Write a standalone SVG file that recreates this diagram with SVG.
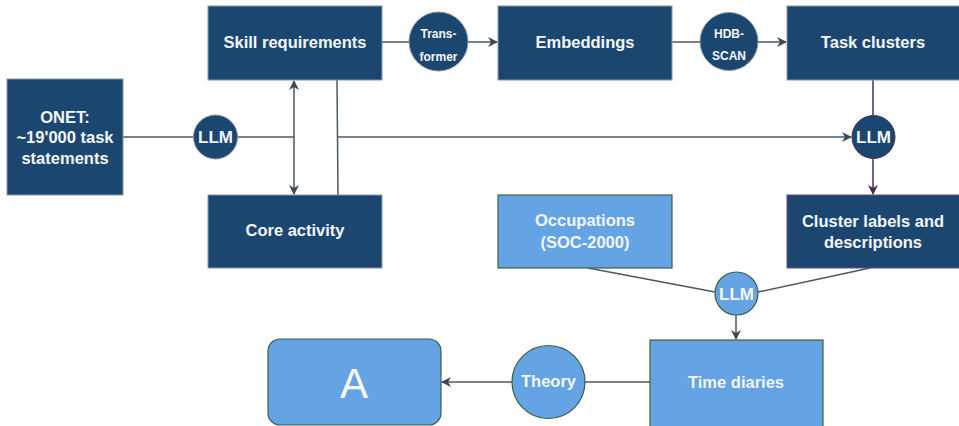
<svg xmlns="http://www.w3.org/2000/svg" width="959" height="426" viewBox="0 0 959 426">
<defs>
<marker id="ah" viewBox="0 0 10 10" refX="9" refY="5" markerWidth="10" markerHeight="10" markerUnits="userSpaceOnUse" orient="auto-start-reverse">
<path d="M0,0 L10,5 L0,10 L3,5 Z" fill="#3b4a5a"/>
</marker>
<marker id="ahp" viewBox="0 0 10 10" refX="9" refY="5" markerWidth="10" markerHeight="10" markerUnits="userSpaceOnUse" orient="auto">
<path d="M0,0 L10,5 L0,10 L3,5 Z" fill="#432d57"/>
</marker>
<style>
.dk{fill:#1b4670;stroke:#8a96a3;stroke-width:1}
.lt{fill:#64a3e4;stroke:#3f5f46;stroke-width:1.2}
.t{font-family:"Liberation Sans",Arial,sans-serif;fill:#f4f7fb;text-anchor:middle;font-size:16.5px;font-weight:bold}
.s{font-family:"Liberation Sans",Arial,sans-serif;fill:#f4f7fb;text-anchor:middle;font-size:12px;font-weight:bold}
.big{font-family:"Liberation Sans",Arial,sans-serif;fill:#ffffff;text-anchor:middle;font-size:42px}
.c{fill:none;stroke:#4a5866;stroke-width:1.5}
.p{fill:none;stroke:#432d57;stroke-width:1.5}
</style>
</defs>
<rect width="959" height="426" fill="#ffffff"/>
<g id="connectors">
<line class="c" x1="123" y1="137" x2="193" y2="137"/>
<line class="c" x1="238" y1="137" x2="294" y2="137"/>
<line class="c" x1="294" y1="81" x2="294" y2="194" marker-start="url(#ah)" marker-end="url(#ah)"/>
<line class="c" x1="337" y1="80" x2="338" y2="195"/>
<line class="c" x1="338" y1="137" x2="851" y2="137" marker-end="url(#ah)"/>
<line class="c" x1="382" y1="42" x2="409" y2="42"/>
<line class="c" x1="468" y1="42" x2="497" y2="42" marker-end="url(#ah)"/>
<line class="c" x1="672" y1="42" x2="700" y2="42"/>
<line class="c" x1="758" y1="42" x2="786" y2="42" marker-end="url(#ah)"/>
<line class="p" x1="873" y1="80" x2="873" y2="115"/>
<line class="p" x1="873" y1="159" x2="873" y2="194" marker-end="url(#ahp)"/>
<line class="c" x1="588" y1="268" x2="715" y2="292"/>
<line class="c" x1="870" y1="268" x2="758" y2="292"/>
<line class="c" x1="736" y1="315" x2="736" y2="339" marker-end="url(#ah)"/>
<line class="c" x1="650" y1="382" x2="585" y2="382"/>
<line class="c" x1="512" y1="382" x2="442" y2="382" marker-end="url(#ah)"/>
</g>
<g id="onet"><rect class="dk" x="7" y="79" width="116" height="116"/>
<text class="t" x="65" y="123">ONET:</text>
<text class="t" x="65" y="143">~19'000 task</text>
<text class="t" x="65" y="164">statements</text></g>
<g id="llm1"><circle class="dk" cx="215.5" cy="137" r="22"/><text class="t" x="215.5" y="143" style="font-size:17px">LLM</text></g>
<g id="skill"><rect class="dk" x="208" y="6" width="174" height="74"/><text class="t" x="295" y="48">Skill requirements</text></g>
<g id="core"><rect class="dk" x="208" y="195" width="174" height="73"/><text class="t" x="295" y="236">Core activity</text></g>
<g id="transformer"><circle class="dk" cx="438.5" cy="41.5" r="29.5"/><text class="s" x="438.5" y="38">Trans-</text><text class="s" x="438.5" y="61">former</text></g>
<g id="embeddings"><rect class="dk" x="498" y="6" width="174" height="74"/><text class="t" x="585" y="48">Embeddings</text></g>
<g id="hdbscan"><circle class="dk" cx="729" cy="41.5" r="29"/><text class="s" x="729" y="38">HDB-</text><text class="s" x="729" y="60">SCAN</text></g>
<g id="clusters"><rect class="dk" x="787" y="6" width="175" height="74"/><text class="t" x="873" y="48">Task clusters</text></g>
<g id="llm2"><circle class="dk" cx="873.5" cy="137" r="21.5" style="stroke:#432d57"/><text class="t" x="873.5" y="143" style="font-size:17px">LLM</text></g>
<g id="labels"><rect class="dk" x="787" y="195" width="175" height="73" style="stroke:#6a4a7a"/>
<text class="t" x="873" y="227">Cluster labels and</text><text class="t" x="873" y="248">descriptions</text></g>
<g id="occupations"><rect class="lt" x="498" y="195" width="174" height="73"/>
<text class="t" x="585" y="226">Occupations</text><text class="t" x="585" y="248">(SOC-2000)</text></g>
<g id="llm3"><circle class="lt" cx="736.5" cy="293.5" r="21.5"/><text class="t" x="736.5" y="300" style="font-size:17px">LLM</text></g>
<g id="timediaries"><rect class="lt" x="650" y="340" width="173" height="95"/><text class="t" x="736" y="388">Time diaries</text></g>
<g id="theory"><circle class="lt" cx="548.5" cy="382" r="36.5"/><text class="t" x="548.5" y="387">Theory</text></g>
<g id="a"><rect class="lt" x="268" y="339" width="173" height="86" rx="12"/><text class="big" x="354" y="398">A</text></g>
</svg>
